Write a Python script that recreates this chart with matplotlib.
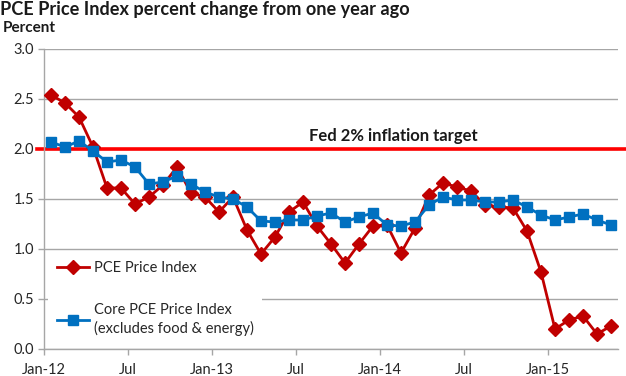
import matplotlib
matplotlib.use('Agg')
import matplotlib.pyplot as plt
import matplotlib.transforms as mtransforms

plt.rcParams['font.family'] = ['Lato', 'DejaVu Sans']

# monthly data, Jan-12 .. May-15
months = list(range(41))
pce = [2.54, 2.46, 2.32, 2.02, 1.61, 1.61, 1.45, 1.52, 1.64, 1.82, 1.56, 1.52,
       1.37, 1.52, 1.19, 0.95, 1.12, 1.37, 1.47, 1.23, 1.05, 0.86, 1.05, 1.23,
       1.24, 0.96, 1.21, 1.54, 1.66, 1.62, 1.58, 1.44, 1.42, 1.41, 1.18, 0.77,
       0.20, 0.29, 0.33, 0.15, 0.23]
core = [2.07, 2.02, 2.08, 1.98, 1.87, 1.89, 1.82, 1.65, 1.67, 1.73, 1.65, 1.57,
        1.52, 1.50, 1.42, 1.28, 1.27, 1.29, 1.29, 1.33, 1.36, 1.27, 1.32, 1.36,
        1.24, 1.23, 1.27, 1.44, 1.52, 1.49, 1.49, 1.47, 1.47, 1.49, 1.42, 1.34,
        1.29, 1.32, 1.35, 1.29, 1.24]
tick_labels = ['Jan-12', 'Jul', 'Jan-13', 'Jul', 'Jan-14', 'Jul', 'Jan-15']
target = 2.0

red = '#C00000'
blue = '#0070C0'
grid = '#A6A6A6'

fig = plt.figure(figsize=(6.26, 3.76), dpi=100)
ax = fig.add_axes([44 / 626, 27 / 376, 574 / 626, 300 / 376])

ax.set_xlim(-0.5, len(months) - 0.5)
ax.set_ylim(0, 3.0)

# horizontal gridlines
ax.set_yticks([0, 0.5, 1.0, 1.5, 2.0, 2.5, 3.0])
ax.set_yticklabels(['%.1f' % v for v in ax.get_yticks()], fontsize=10.5, color='#262626')
ax.yaxis.grid(True, color=grid, linewidth=1.0)
ax.set_axisbelow(True)

ax.set_xticks([-0.5 + 6 * k for k in range(len(tick_labels))])
ax.set_xticklabels(tick_labels, fontsize=10.5, color='#262626')

for s in ['top', 'right']:
    ax.spines[s].set_visible(False)
for s in ['left', 'bottom']:
    ax.spines[s].set_color(grid)
    ax.spines[s].set_linewidth(1.0)
ax.tick_params(axis='both', color=grid, length=4, width=1.0, pad=3)
ax.tick_params(axis='x', pad=6)

# fed target line
trans = mtransforms.blended_transform_factory(ax.transAxes, ax.transData)
ax.plot([-0.012, 1.02], [target, target], color='#FF0000', linewidth=2.6,
        transform=trans, clip_on=False, zorder=2)
ax.text(0.608, target + 0.13, 'Fed 2% inflation target', transform=trans,
        ha='center', va='center', fontsize=12, fontweight='bold', color='#1a1a1a')

ax.plot(months, pce, color=red, linewidth=2.0, marker='D', markersize=7.5,
        label='PCE Price Index', zorder=3)
ax.plot(months, core, color=blue, linewidth=2.0, marker='s', markersize=7,
        label='Core PCE Price Index\n(excludes food & energy)', zorder=4)

leg = ax.legend(loc='lower left', bbox_to_anchor=(0.0, 0.0),
                frameon=True, fontsize=10.5, handlelength=2.2, handletextpad=0.3,
                labelspacing=1.9, borderpad=0.6, borderaxespad=0.3)
leg.get_frame().set_facecolor('white')
leg.get_frame().set_edgecolor('none')
leg.get_frame().set_alpha(1.0)
leg.set_zorder(2.5)
for t in leg.get_texts():
    t.set_color('#262626')
    t.set_linespacing(1.35)

fig.text(0.0, 1 - 10 / 376, 'PCE Price Index percent change from one year ago',
         ha='left', va='center', fontsize=13.1, fontweight='bold', color='#1a1a1a')
fig.text(3 / 626, 1 - 28 / 376, 'Percent', ha='left', va='center',
         fontsize=11, fontweight='bold', color='#1a1a1a')

fig.savefig('out.png', dpi=100)
